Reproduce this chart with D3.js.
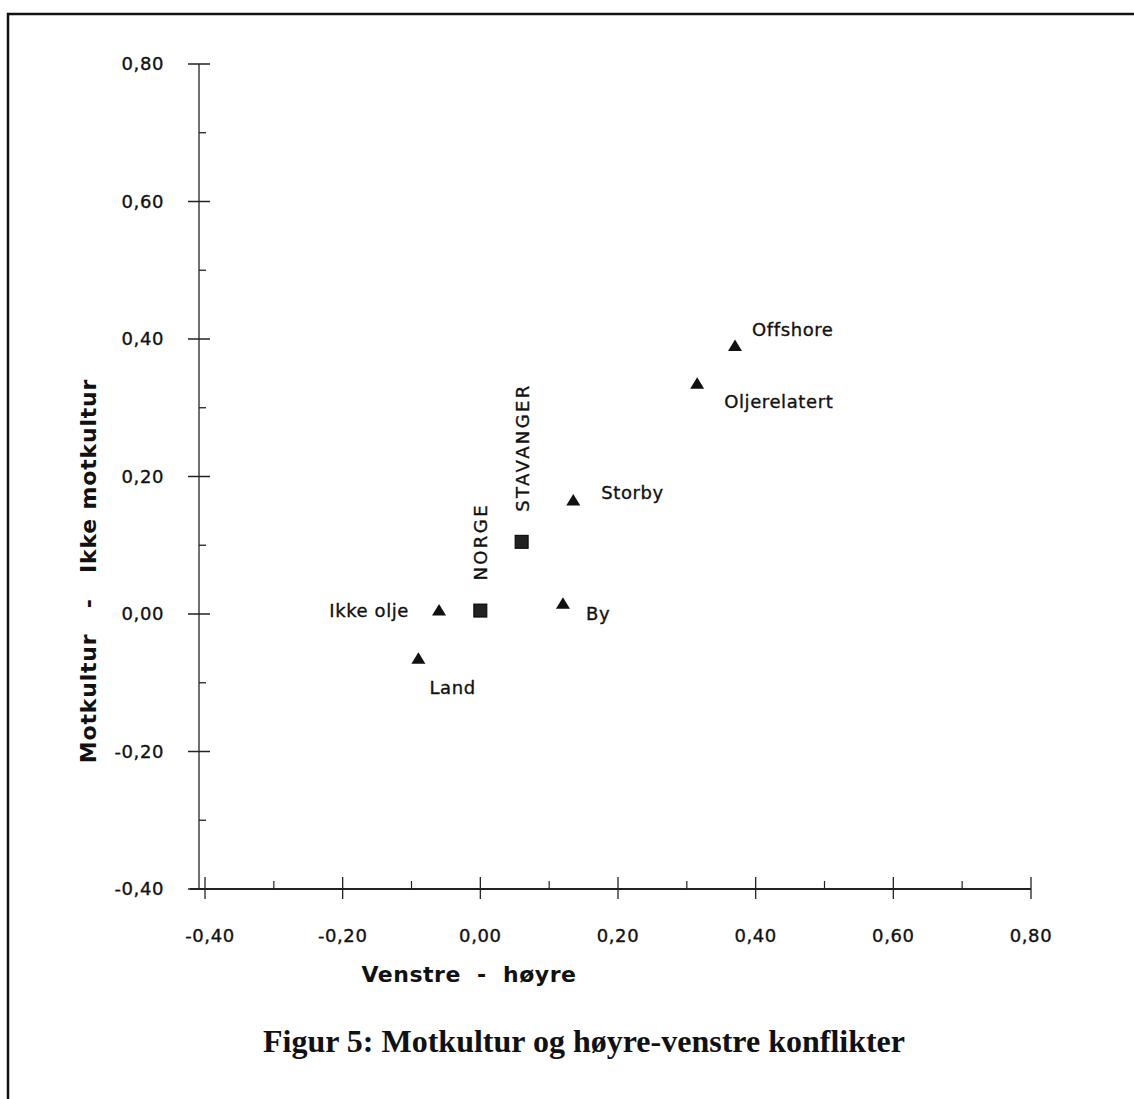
<!DOCTYPE html>
<html>
<head>
<meta charset="utf-8">
<script src="https://cdn.jsdelivr.net/npm/d3@7"></script>
<style>
  body { margin: 0; background: #fff; }
  text { font-family: "DejaVu Sans", "Liberation Sans", sans-serif; fill: #111; }
  .lab { stroke: #111; stroke-width: 0.35px; }
</style>
</head>
<body>
<div id="chart"></div>
<script>
// punkter: navn, venstre-høyre, motkultur
var names = ['Offshore', 'Oljerelatert', 'Storby', 'STAVANGER', 'NORGE', 'Ikke olje', 'By', 'Land']
var xVals = [0.37, 0.315, 0.135, 0.06, 0.00, -0.06, 0.12, -0.09]
var yVals = [0.39, 0.335, 0.165, 0.105, 0.005, 0.005, 0.015, -0.065]
var shapes = ['tri', 'tri', 'tri', 'sq', 'sq', 'tri', 'tri', 'tri']
// hvor etiketten står i forhold til punktet
var labelPos = ['ur', 'dr', 'r', 'up', 'up', 'l', 'dr2', 'd']

var majorTicks = [-0.4, -0.2, 0, 0.2, 0.4, 0.6, 0.8]
var minorTicks = [-0.3, -0.1, 0.1, 0.3, 0.5, 0.7]

var width = 1134
var height = 1099

var svg = d3.select('#chart').append('svg')
    .attr('width', width)
    .attr('height', height)

// ramme
svg.append('rect')
    .attr('x', 8).attr('y', 14)
    .attr('width', 1140).attr('height', 1100)
    .attr('fill', 'none').attr('stroke', '#111').attr('stroke-width', 2.5)

var x = d3.scaleLinear().domain([-0.4, 0.8]).range([205, 1031])
var y = d3.scaleLinear().domain([-0.4, 0.8]).range([889, 64])

var no = d3.formatLocale({ decimal: ',', thousands: '.', grouping: [3], currency: ['', ''], minus: '-' })
var fmt = no.format('.2f')

var axisColor = '#222'

// y-akse
svg.append('line')
    .attr('x1', x(-0.4) - 6).attr('x2', x(-0.4) - 6)
    .attr('y1', y(0.8)).attr('y2', y(-0.4))
    .attr('stroke', axisColor).attr('stroke-width', 1.3)

svg.selectAll('.ymajor').data(majorTicks).enter().append('line')
    .attr('x1', x(-0.4) - 17).attr('x2', x(-0.4) + 5)
    .attr('y1', function (d) { return y(d) }).attr('y2', function (d) { return y(d) })
    .attr('stroke', axisColor).attr('stroke-width', 1.5)

svg.selectAll('.yminor').data(minorTicks).enter().append('line')
    .attr('x1', x(-0.4) - 6).attr('x2', x(-0.4) + 1)
    .attr('y1', function (d) { return y(d) }).attr('y2', function (d) { return y(d) })
    .attr('stroke', axisColor).attr('stroke-width', 1.3)

svg.selectAll('.ylab').data(majorTicks).enter().append('text')
    .attr('class', 'lab')
    .attr('x', 164)
    .attr('y', function (d) { return y(d) })
    .attr('dy', '0.35em')
    .attr('text-anchor', 'end')
    .style('font-size', '18px').style('letter-spacing', '0.6px')
    .text(function (d) { return fmt(d) })

// x-akse
svg.append('line')
    .attr('x1', x(-0.4) - 15).attr('x2', x(0.8))
    .attr('y1', y(-0.4)).attr('y2', y(-0.4))
    .attr('stroke', axisColor).attr('stroke-width', 2)

svg.selectAll('.xmajor').data(majorTicks).enter().append('line')
    .attr('x1', function (d) { return x(d) }).attr('x2', function (d) { return x(d) })
    .attr('y1', y(-0.4) - 12).attr('y2', y(-0.4) + 10)
    .attr('stroke', axisColor).attr('stroke-width', 1.3)

svg.selectAll('.xminor').data(minorTicks).enter().append('line')
    .attr('x1', function (d) { return x(d) }).attr('x2', function (d) { return x(d) })
    .attr('y1', y(-0.4) - 8).attr('y2', y(-0.4))
    .attr('stroke', axisColor).attr('stroke-width', 1.2)

svg.selectAll('.xlab').data(majorTicks).enter().append('text')
    .attr('class', 'lab')
    .attr('x', function (d) { return x(d) + (d === -0.4 ? 5 : 0) })
    .attr('y', 942)
    .attr('text-anchor', 'middle')
    .style('font-size', '18px').style('letter-spacing', '0.6px')
    .text(function (d) { return fmt(d) })

// aksetitler
svg.append('text')
    .attr('x', 469).attr('y', 982)
    .attr('text-anchor', 'middle')
    .style('font-size', '22px').style('font-weight', 'bold')
    .style('letter-spacing', '0.5px')
    .style('white-space', 'pre')
    .text('Venstre  -  høyre')

svg.append('text')
    .attr('transform', 'translate(96,571) rotate(-90)')
    .attr('text-anchor', 'middle')
    .style('font-size', '22px').style('font-weight', 'bold')
    .style('letter-spacing', '0.8px')
    .style('white-space', 'pre')
    .text('Motkultur   -   Ikke motkultur')

// figurtekst
svg.append('text')
    .attr('x', 584).attr('y', 1052)
    .attr('text-anchor', 'middle')
    .style('font-family', '"Liberation Serif", "DejaVu Serif", serif')
    .style('font-size', '32px').style('font-weight', 'bold')
    .text('Figur 5: Motkultur og høyre-venstre konflikter')

// punkter
var pts = names.map(function (n, i) {
    return { name: n, x: xVals[i], y: yVals[i], shape: shapes[i], pos: labelPos[i] }
})

var g = svg.selectAll('.pt').data(pts).enter().append('g')
    .attr('transform', function (d) { return 'translate(' + x(d.x) + ',' + y(d.y) + ')' })

g.filter(function (d) { return d.shape === 'tri' }).append('path')
    .attr('d', 'M0,-6.5 L7,5 L-7,5 Z')
    .attr('fill', '#111')

g.filter(function (d) { return d.shape === 'sq' }).append('rect')
    .attr('x', -6.5).attr('y', -6.5).attr('width', 13).attr('height', 13)
    .attr('fill', '#222').attr('stroke', '#000').attr('stroke-width', 1)

g.append('text')
    .attr('class', 'lab')
    .style('font-size', '18px')
    .attr('transform', function (d) {
        if (d.pos === 'ur') return 'translate(17,-10)'
        if (d.pos === 'dr') return 'translate(27,24)'
        if (d.pos === 'r') return 'translate(28,-2)'
        if (d.pos === 'dr2') return 'translate(23,16)'
        if (d.pos === 'd') return 'translate(11,35)'
        if (d.pos === 'l') return 'translate(-30,6)'
        return 'translate(7,-30) rotate(-90)'
    })
    .attr('text-anchor', function (d) { return d.pos === 'l' ? 'end' : 'start' })
    .style('letter-spacing', function (d) { return d.pos === 'up' ? '2.4px' : '0.6px' })
    .text(function (d) { return d.name })
</script>
</body>
</html>
